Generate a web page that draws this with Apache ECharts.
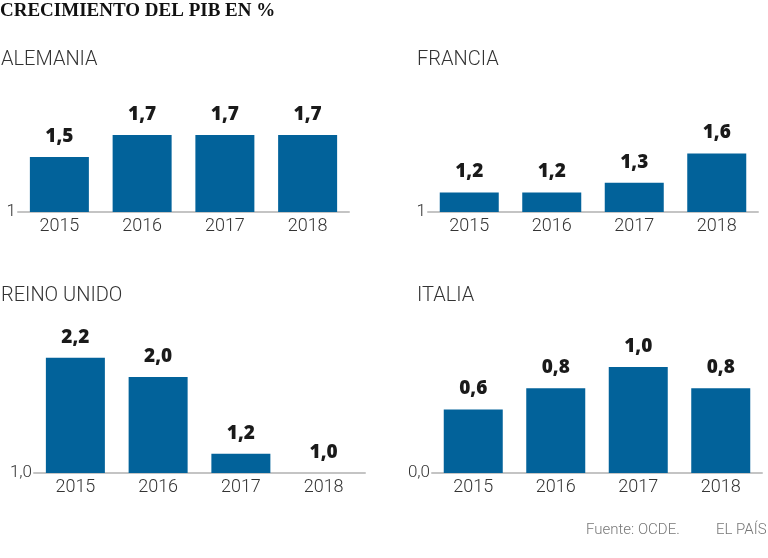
<!DOCTYPE html>
<html><head><meta charset="utf-8">
<script src="https://cdn.jsdelivr.net/npm/echarts@6/dist/echarts.min.js"></script>
<style>html,body{margin:0;padding:0;background:#fff}#c{width:768px;height:558px}</style>
</head><body><div id="c"></div>
<script>
const years = ['2015', '2016', '2017', '2018'];
const alemania = [1.5, 1.7, 1.7, 1.7];
const francia = [1.2, 1.2, 1.3, 1.6];
const reinoUnido = [2.2, 2.0, 1.2, 1.0];
const italia = [0.6, 0.8, 1.0, 0.8];
const panelNames = ['ALEMANIA', 'FRANCIA', 'REINO UNIDO', 'ITALIA'];
const baseLabels = ['1', '1', '1,0', '0,0'];
const axisMins = [1, 1, 1, 0];
const axisMaxs = [2.0, 2.13, 2.229, 1.114];
const seriesData = [alemania, francia, reinoUnido, italia];

const grids = [
  {left: 18, top: 102, width: 331, height: 110},
  {left: 428, top: 102, width: 330, height: 110},
  {left: 34, top: 355, width: 331, height: 118},
  {left: 432, top: 355, width: 330, height: 118}
];
const titlePos = [[1, 50], [417, 50], [1, 286], [417, 286]];
const BLUE = '#02629a';
const light = 'Roboto';

const option = {
  animation: false,
  title: [
    {text: 'CRECIMIENTO DEL PIB EN %', left: 0, top: 2, padding: 0,
     textStyle: {fontFamily: 'Liberation Serif', fontWeight: 'bold', fontSize: 19, color: '#111'}},
    ...panelNames.map((n, i) => ({text: n, left: titlePos[i][0], top: titlePos[i][1], padding: 0,
      textStyle: {fontFamily: light, fontWeight: 300, fontSize: 20, color: '#333'}})),
    {text: 'Fuente: OCDE.', left: 586, top: 523, padding: 0, textStyle: {fontFamily: light, fontWeight: 300, fontSize: 15, color: '#777'}},
    {text: 'EL PAÍS', left: 716, top: 523, padding: 0, textStyle: {fontFamily: light, fontWeight: 300, fontSize: 15, color: '#777'}}
  ],
  grid: grids,
  xAxis: grids.map((g, i) => ({
    type: 'category', gridIndex: i, data: years,
    axisLine: {lineStyle: {color: '#c4c4c4', width: 2}},
    axisTick: {show: false},
    axisLabel: {fontFamily: light, fontWeight: 300, fontSize: 18, color: '#333', margin: 5}
  })),
  yAxis: grids.map((g, i) => ({
    type: 'value', gridIndex: i, min: axisMins[i], max: axisMaxs[i],
    axisLine: {show: false}, axisTick: {show: false}, splitLine: {show: false},
    axisLabel: {fontFamily: light, fontWeight: 300, fontSize: 17, color: '#333', margin: 2,
      formatter: v => (v === axisMins[i] ? baseLabels[i] : '')}
  })),
  series: seriesData.map((d, i) => ({
    type: 'bar', xAxisIndex: i, yAxisIndex: i, data: d, barWidth: 59,
    itemStyle: {color: BLUE},
    label: {show: true, position: 'top', distance: 11,
      fontFamily: 'Open Sans', fontWeight: 800, fontSize: 19, color: '#1a1a1a',
      formatter: p => p.value.toFixed(1).replace('.', ',')}
  }))
};
echarts.init(document.getElementById('c')).setOption(option);
</script></body></html>
